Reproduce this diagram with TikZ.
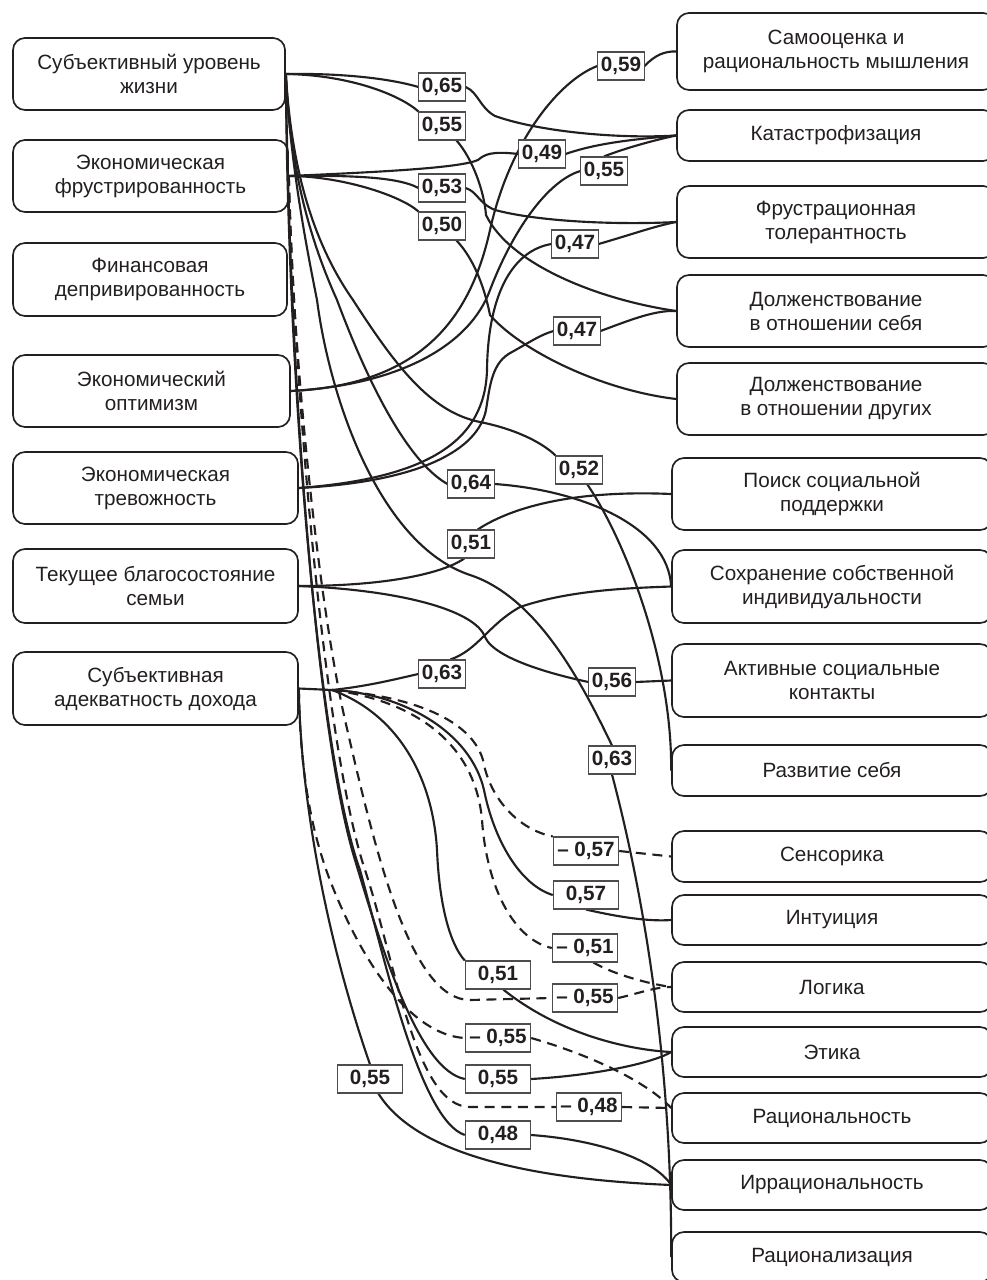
\documentclass[tikz,border=0pt]{standalone}
\usepackage{fontspec}
\setmainfont{Liberation Sans}
\usetikzlibrary{calc}
\definecolor{ink}{HTML}{231F20}
\pgfdeclarelayer{bg}
\pgfsetlayers{bg,main}
\begin{document}
\begin{tikzpicture}[x=0.75pt,y=-0.75pt,
  box/.style={draw=ink, line width=1.25pt, rounded corners=9pt, align=center,
    font=\fontsize{15.5}{18}\selectfont, text=ink, inner sep=0pt},
  lab/.style={draw=ink!80, line width=0.8pt, fill=white, text=ink,
    font=\bfseries\fontsize{15.5}{15.5}\selectfont, inner xsep=2.2pt, inner ysep=0pt,
    minimum height=21pt},
  wlab/.style={lab, minimum width=49pt},
  conn/.style={draw=ink, line width=1.6pt},
  dconn/.style={conn, dash pattern=on 7.5pt off 5pt}]
\useasboundingbox (0,0) rectangle (987,1280);
\clip (0,0) rectangle (987,1280);
% left boxes
\node[box, minimum width=204pt, minimum height=54pt] (L1) at (149,74) {Субъективный уровень\\жизни};
\node[box, minimum width=206.25pt, minimum height=54pt] (L2) at (150.5,176) {Экономическая\\фрустрированность};
\node[box, minimum width=205.5pt, minimum height=54.75pt] (L3) at (150,279.5) {Финансовая\\депривированность};
\node[box, minimum width=207.75pt, minimum height=54pt] (L4) at (151.5,391) {Экономический\\оптимизм};
\node[box, minimum width=213.75pt, minimum height=54pt] (L5) at (155.5,488) {Экономическая\\тревожность};
\node[box, minimum width=213.75pt, minimum height=55.5pt] (L6) at (155.5,586) {Текущее благосостояние\\семьи};
\node[box, minimum width=213.75pt, minimum height=54.75pt] (L7) at (155.5,688.5) {Субъективная\\адекватность дохода};
% right boxes
\node[box, minimum width=238.5pt, minimum height=57.75pt] (R1) at (836,51.5) {Самооценка и\\рациональность мышления};
\node[box, minimum width=238.5pt, minimum height=38.25pt] (R2) at (836,135.5) {Катастрофизация};
\node[box, minimum width=238.5pt, minimum height=54pt] (R3) at (836,222) {Фрустрационная\\толерантность};
\node[box, minimum width=238.5pt, minimum height=54pt] (R4) at (836,311) {Долженствование\\в отношении себя};
\node[box, minimum width=238.5pt, minimum height=54pt] (R5) at (836,399) {Долженствование\\в отношении других};
\node[box, minimum width=240pt, minimum height=54pt] (R6) at (832,494) {Поиск социальной\\поддержки};
\node[box, minimum width=240pt, minimum height=54.75pt] (R7) at (832,586.5) {Сохранение собственной\\индивидуальности};
\node[box, minimum width=240pt, minimum height=54.75pt] (R8) at (832,680.5) {Активные социальные\\контакты};
\node[box, minimum width=240pt, minimum height=38.25pt] (R9) at (832,770.5) {Развитие себя};
\node[box, minimum width=240pt, minimum height=38.25pt] (R10) at (832,856.5) {Сенсорика};
\node[box, minimum width=240pt, minimum height=37.5pt] (R11) at (832,920) {Интуиция};
\node[box, minimum width=240pt, minimum height=37.5pt] (R12) at (832,987) {Логика};
\node[box, minimum width=240pt, minimum height=37.5pt] (R13) at (832,1052) {Этика};
\node[box, minimum width=240pt, minimum height=37.5pt] (R14) at (832,1118) {Рациональность};
\node[box, minimum width=240pt, minimum height=37.5pt] (R15) at (832,1185) {Иррациональность};
\node[box, minimum width=240pt, minimum height=37.5pt] (R16) at (832,1257) {Рационализация};
\coordinate (r14in) at ($(R14.west)+(0,-10)$);
\coordinate (j7) at (332,690);
% labels
\node[lab] (lab65) at (442,87) {0,65};
\node[lab] (lab55a) at (442,126) {0,55};
\node[lab] (lab49) at (542,154) {0,49};
\node[lab] (lab53) at (442,188) {0,53};
\node[lab] (lab50) at (442,226) {0,50};
\node[lab] (lab59) at (621,66) {0,59};
\node[lab] (lab55b) at (604,171) {0,55};
\node[lab] (lab47a) at (575,244) {0,47};
\node[lab] (lab47b) at (577,331) {0,47};
\node[lab] (lab52) at (579,470) {0,52};
\node[lab] (lab64) at (471,484) {0,64};
\node[lab] (lab51a) at (471,544) {0,51};
\node[lab] (lab63a) at (442,674) {0,63};
\node[lab] (lab56) at (612,682) {0,56};
\node[lab] (lab63b) at (612,760) {0,63};
\node[wlab] (lab57n) at (586,851) {– 0,57};
\node[wlab] (lab57) at (586,895) {0,57};
\node[wlab] (lab51n) at (585,948) {– 0,51};
\node[wlab] (lab51b) at (498,975) {0,51};
\node[wlab] (lab55n) at (585,998) {– 0,55};
\node[wlab] (lab55m) at (498,1038) {– 0,55};
\node[wlab] (lab55c) at (498,1079) {0,55};
\node[wlab] (lab48n) at (589,1107) {– 0,48};
\node[wlab] (lab48) at (498,1135) {0,48};
\node[wlab] (lab55d) at (370,1079) {0,55};
\begin{pgfonlayer}{bg}
% L1
\draw[conn] (L1.east) .. controls (350,73) and (395,80) .. (lab65.west);
\draw[conn] (lab65.east) .. controls (478,92) and (480,108) .. (495,116) .. controls (540,132) and (620,139) .. (R2.west);
\draw[conn] (L1.east) .. controls (350,75) and (400,95) .. (lab55a.north west);
\draw[conn] (lab55a.-45) .. controls (472,158) and (484,190) .. (486,215) .. controls (510,265) and (600,300) .. (R4.west);
\draw[conn] (L1.east) .. controls (292,180) and (318,250) .. (353,300) .. controls (395,365) and (430,412) .. (480,422) .. controls (520,430) and (545,445) .. (lab52.north west);
\draw[conn] (lab52.-60) .. controls (625,540) and (672,660) .. (R9.west);
\draw[conn] (L1.east) .. controls (290,170) and (310,240) .. (337,300) .. controls (365,375) and (405,460) .. (lab64.west);
\draw[conn] (lab64.east) .. controls (580,490) and (668,525) .. (R7.west);
\draw[conn] (L1.east) .. controls (290,160) and (305,240) .. (317,300) .. controls (330,400) and (380,545) .. (470,575) .. controls (540,598) and (585,690) .. (lab63b.north);
\draw[conn] (lab63b.south) .. controls (640,880) and (672,1050) .. (R16.west);
\draw[conn] (L1.east) .. controls (290,400) and (318,740) .. (355,860) .. controls (385,960) and (420,1070) .. (lab55c.west);
\draw[conn] (lab55c.east) .. controls (600,1075) and (655,1062) .. (R13.west);
\draw[conn] (L1.east) .. controls (288,400) and (320,760) .. (360,870) .. controls (385,960) and (420,1120) .. (lab48.west);
\draw[conn] (lab48.east) .. controls (600,1140) and (655,1160) .. (R15.west);
% L2
\draw[conn] (L2.east) .. controls (380,172) and (460,168) .. (478,160) .. controls (485,154) and (492,151) .. (lab49.west);
\draw[conn] (lab49.east) .. controls (600,142) and (640,139) .. (R2.west);
\draw[conn] (L2.east) .. controls (360,175) and (400,178) .. (lab53.west);
\draw[conn] (lab53.east) .. controls (478,192) and (478,203) .. (495,210) .. controls (540,222) and (620,225) .. (R3.west);
\draw[conn] (L2.east) .. controls (340,176) and (400,195) .. (lab50.north west);
\draw[conn] (lab50.-45) .. controls (475,260) and (485,290) .. (490,315) .. controls (520,350) and (600,390) .. (R5.west);
\draw[dconn] (L2.east) .. controls (292,350) and (318,600) .. (345,720) .. controls (375,850) and (410,1000) .. (470,1000) -- (lab55n.west);
\draw[dconn] (lab55n.east) .. controls (640,993) and (655,987) .. (R12.west);
\draw[dconn] (L2.east) .. controls (295,400) and (325,750) .. (365,870) .. controls (395,960) and (415,1107) .. (470,1107) -- (lab48n.west);
\draw[dconn] (lab48n.east) -- (r14in);
% L4
\draw[conn] (L4.east) .. controls (420,385) and (470,320) .. (490,230) .. controls (510,140) and (560,80) .. (lab59.west);
\draw[conn] (lab59.east) .. controls (655,55) and (665,51) .. (R1.west);
\draw[conn] (L4.east) .. controls (400,385) and (470,345) .. (490,290) .. controls (515,225) and (550,180) .. (lab55b.west);
\draw[conn] (lab55b.north) .. controls (620,150) and (650,141) .. (R2.west);
% L5
\draw[conn] (L5.east) .. controls (430,478) and (485,440) .. (487,370) .. controls (488,290) and (515,250) .. (lab47a.west);
\draw[conn] (lab47a.east) .. controls (630,235) and (655,226) .. (R3.west);
\draw[conn] (L5.east) .. controls (420,482) and (478,450) .. (486,410) .. controls (490,385) and (492,362) .. (512,352) .. controls (530,342) and (540,335) .. (lab47b.west);
\draw[conn] (lab47b.east) .. controls (630,320) and (655,310) .. (R4.west);
% L6
\draw[conn] (L6.east) .. controls (380,586) and (440,575) .. (lab51a.-115);
\draw[conn] (lab51a.65) .. controls (515,505) and (580,490) .. (R6.west);
\draw[conn] (L6.east) .. controls (400,590) and (475,610) .. (485,637) .. controls (495,660) and (560,676) .. (lab56.west);
\draw[conn] (lab56.east) -- (R8.west);
% L7
\draw[conn] (L7.east) -- (j7);
\draw[conn] (j7) .. controls (370,686) and (400,678) .. (lab63a.west);
\draw[conn] (lab63a.60) .. controls (478,650) and (488,625) .. (520,607) .. controls (570,590) and (630,588) .. (R7.west);
\draw[dconn] (j7) .. controls (400,695) and (470,715) .. (483,760) .. controls (490,800) and (520,830) .. (lab57n.north west);
\draw[dconn] (lab57n.east) -- (R10.west);
\draw[conn] (j7) .. controls (400,693) and (470,730) .. (484,790) .. controls (494,840) and (520,885) .. (lab57.west);
\draw[conn] (lab57.south) .. controls (610,915) and (645,922) .. (R11.west);
\draw[dconn] (j7) .. controls (410,700) and (475,740) .. (482,820) .. controls (487,890) and (515,940) .. (lab51n.west);
\draw[dconn] (lab51n.-60) .. controls (615,975) and (650,984) .. (R12.west);
\draw[conn] (j7) .. controls (400,715) and (433,780) .. (437,850) .. controls (440,920) and (455,950) .. (lab51b.north west);
\draw[conn] (lab51b.-70) .. controls (560,1035) and (630,1050) .. (R13.west);
\draw[dconn] (L7.east) .. controls (300,760) and (308,820) .. (328,875) .. controls (360,960) and (410,1035) .. (lab55m.west);
\draw[dconn] (lab55m.east) .. controls (600,1058) and (650,1085) .. (r14in);
\draw[conn] (L7.east) .. controls (300,780) and (320,920) .. (lab55d.north);
\draw[conn] (lab55d.-60) .. controls (420,1160) and (550,1180) .. (R15.west);
\end{pgfonlayer}
\end{tikzpicture}
\end{document}
